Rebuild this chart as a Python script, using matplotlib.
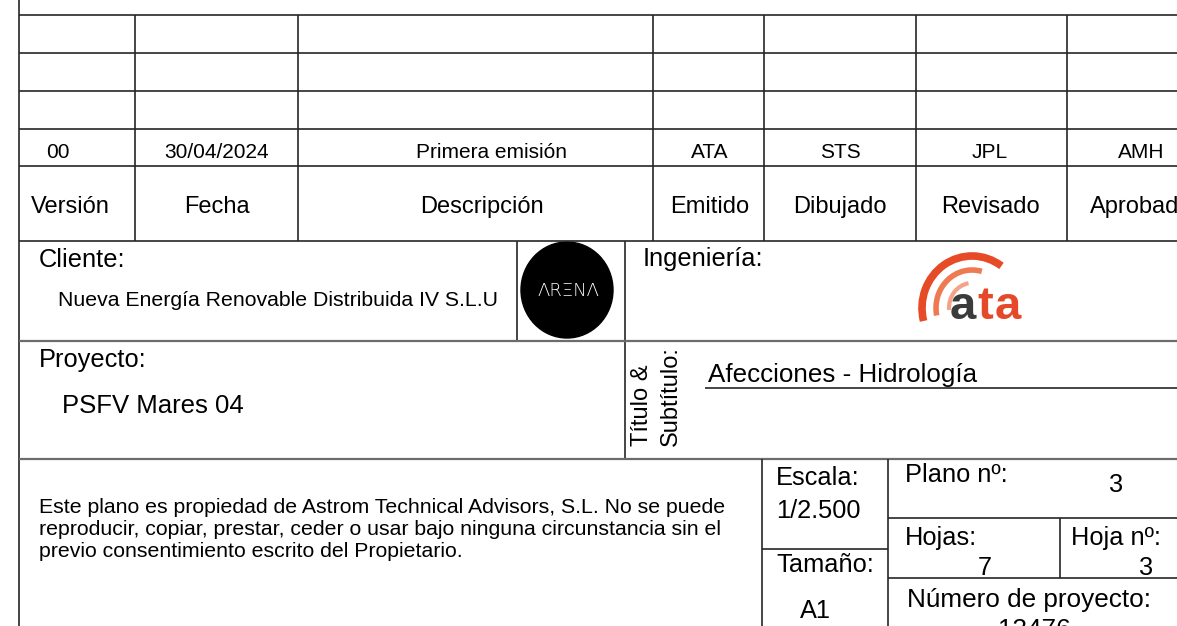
import matplotlib
matplotlib.use("Agg")
import matplotlib.pyplot as plt
from matplotlib.patches import Ellipse, Arc

plt.rcParams["font.family"] = ["Liberation Sans", "DejaVu Sans"]

# Revision table contents
rev_headers = ["Versión", "Fecha", "Descripción", "Emitido", "Dibujado", "Revisado", "Aprobado"]
rev_values = ["00", "30/04/2024", "Primera emisión", "ATA", "STS", "JPL", "AMH"]

# Title block fields
cliente = "Nueva Energía Renovable Distribuida IV S.L.U"
proyecto = "PSFV Mares 04"
titulo = "Afecciones - Hidrología"
aviso = [
    "Este plano es propiedad de Astrom Technical Advisors, S.L. No se puede",
    "reproducir, copiar, prestar, ceder o usar bajo ninguna circunstancia sin el",
    "previo consentimiento escrito del Propietario.",
]
escala = "1/2.500"
tamano = "A1"
plano_no = "3"
hojas = "7"
hoja_no = "3"
num_proyecto = "13476"

# layout (pixel units, y downwards)
W, H = 1177, 626
fig = plt.figure(figsize=(W / 100, H / 100), dpi=100)
ax = fig.add_axes([0, 0, 1, 1])
ax.set_xlim(0, W)
ax.set_ylim(H, 0)
ax.axis("off")

dark = "#262626"
grey = "#6c6c6c"


def hline(y, x0, x1, c=dark, lw=1.2):
    ax.plot([x0, x1], [y, y], color=c, lw=lw, solid_capstyle="butt")


def vline(x, y0, y1, c=dark, lw=1.2):
    ax.plot([x, x], [y0, y1], color=c, lw=lw, solid_capstyle="butt")


# outer left border
vline(19, 0, H)

# revision table grid
row_y = [15, 53, 91, 129, 166, 241]
col_x = [135, 298, 653, 764, 916, 1067]
for y in row_y:
    hline(y, 19, W)
for x in col_x:
    vline(x, 15, 241)

# texts in revision table
col_centers = [70, 217, 482, 710, 840, 990, 1141]
for i, (h, v) in enumerate(zip(rev_headers, rev_values)):
    ax.text(col_centers[i], 213, h, fontsize=17, ha="center", va="baseline")
    if i == 0:
        ax.text(46, 158, v, fontsize=15, ha="left", va="baseline")
    else:
        cx = 491 if i == 2 else col_centers[i]
        ax.text(cx, 158, v, fontsize=15, ha="center", va="baseline")

# Cliente / Ingenieria row
vline(517, 241, 341)
vline(625, 241, 459)
hline(341, 19, W, c=grey, lw=1.6)
ax.text(39, 267, "Cliente:", fontsize=18.3, va="baseline")
ax.text(58, 306, cliente, fontsize=15.3, va="baseline")
ax.text(643, 266, "Ingeniería:", fontsize=18.3, va="baseline")

# ARENA logo
ax.add_patch(Ellipse((567, 290), 92, 96, color="black"))
ax.text(568, 291, "ΛRΞNΛ", color="white", fontsize=13, ha="center", va="center",
        fontweight="light", family=["DejaVu Sans"])

# ata logo
ax.add_patch(Arc((972, 308), 100, 104, theta1=165, theta2=305, color="#e64a26", lw=5.5))
ax.add_patch(Arc((972, 308), 72, 76, theta1=168, theta2=285, color="#ef7a52", lw=4))
ax.add_patch(Arc((972, 308), 46, 50, theta1=175, theta2=262, color="#f4a386", lw=3))
ax.text(950, 319, "a", color="#3b3b3b", fontsize=34, fontweight="bold", va="baseline")
ax.text(977, 319, "t", color="#e5492a", fontsize=34, fontweight="bold", va="baseline")
ax.text(995, 319, "a", color="#e5492a", fontsize=34, fontweight="bold", va="baseline")

# Proyecto / Titulo row
hline(459, 19, W, c=grey, lw=1.6)
ax.text(39, 367, "Proyecto:", fontsize=18.3, va="baseline")
ax.text(62, 413, proyecto, fontsize=18.5, va="baseline")
ax.text(648, 446, "Título &", fontsize=17, rotation=90, rotation_mode="anchor",
        ha="left", va="baseline")
ax.text(677, 446, "Subtítulo:", fontsize=17, rotation=90, rotation_mode="anchor",
        ha="left", va="baseline")
ax.text(708, 382, titulo, fontsize=18.7, va="baseline")
hline(388, 705, W)

# bottom block
for i, line in enumerate(aviso):
    ax.text(39, 513 + 22 * i, line, fontsize=15.3, va="baseline")

vline(762, 459, H)
vline(888, 459, H)
hline(549, 762, 888)
hline(518, 888, W)
hline(578, 888, W)
vline(1060, 518, 578)

ax.text(818, 485, "Escala:", fontsize=18.3, ha="center", va="baseline")
ax.text(818, 518, escala, fontsize=18.3, ha="center", va="baseline")
ax.text(825, 572, "Tamaño:", fontsize=18.3, ha="center", va="baseline")
ax.text(815, 618, tamano, fontsize=18.3, ha="center", va="baseline")

ax.text(905, 482, "Plano nº:", fontsize=18.3, va="baseline")
ax.text(1116, 492, plano_no, fontsize=18.3, ha="center", va="baseline")
ax.text(905, 545, "Hojas:", fontsize=18.3, va="baseline")
ax.text(985, 575, hojas, fontsize=18.3, ha="center", va="baseline")
ax.text(1071, 545, "Hoja nº:", fontsize=18.3, va="baseline")
ax.text(1146, 575, hoja_no, fontsize=18.3, ha="center", va="baseline")
ax.text(907, 607, "Número de proyecto:", fontsize=18.8, va="baseline")
ax.text(1034, 637, num_proyecto, fontsize=18.8, ha="center", va="baseline")

fig.savefig("out.png", dpi=100)
